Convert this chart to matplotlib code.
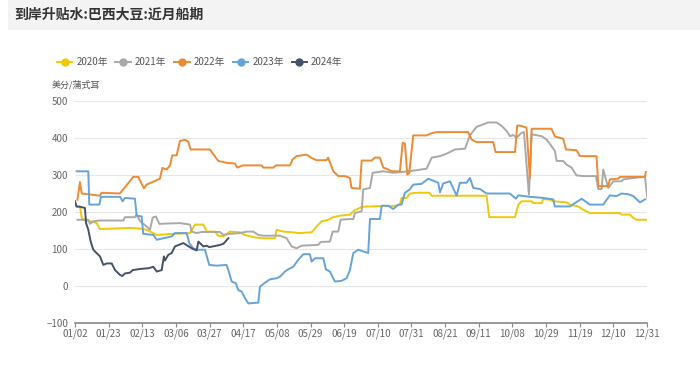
import matplotlib
matplotlib.use("Agg")
import matplotlib.pyplot as plt
from matplotlib.lines import Line2D
from matplotlib.patches import Rectangle

plt.rcParams['font.family'] = ['Noto Sans CJK SC', 'DejaVu Sans']

# Etiquetas del eje x (una cada 21 días de posición)
etiquetas_x = ["01/02", "01/23", "02/13", "03/06", "03/27", "04/17", "05/08", "05/29", "06/19",
               "07/10", "07/31", "08/21", "09/11", "10/08", "10/29", "11/19", "12/10", "12/31"]
posiciones_x = [21 * i for i in range(len(etiquetas_x))]

# Series: (posición en días, valor)
x_2020 = [0.6, 3.1, 4.2, 6.2, 9.4, 11.4, 13.5, 15.6, 35.4, 40.6, 44.7, 47.8, 51, 61.4, 71.8, 74.9,
          80.1, 82.2, 87.4, 89.4, 92.6, 96.7, 103, 106, 111.3, 117.5, 124.8, 125.8, 130, 136.2,
          139.4, 147.7, 150.8, 153.9, 158.1, 161.2, 165.4, 171.6, 173.7, 178.9, 184.1, 200.7,
          202.8, 203.8, 207, 209, 213.2, 221.1, 222.6, 256.9, 258.5, 274.6, 276.7, 278.7, 285,
          286, 291.2, 292.2, 296.4, 298.5, 306.8, 308.9, 314.1, 317.2, 321.4, 340.1, 341.1,
          346.3, 348.4, 350.5, 356.7]
y_2020 = [215, 215, 184, 177, 175, 173, 170, 154, 157, 155, 152, 145, 138, 141, 143, 166,
          166, 147, 147, 136, 134, 147, 145, 138, 132, 129, 129, 152, 147, 145,
          143, 145, 161, 175, 179, 186, 190, 193, 202, 214, 215, 217,
          220, 238, 238, 250, 252, 252, 244, 244, 186, 186, 220, 229, 229,
          224, 224, 235, 233, 229, 226, 220, 215, 206, 197, 197, 193,
          193, 184, 179, 179]

x_2021 = [1.5, 8.3, 9.4, 11.4, 15.6, 30.2, 31.2, 37.4, 38.5, 40.6, 44.7, 46.8, 48.5, 50.5, 52.6,
          65.5, 71.8, 72.8, 75.9, 79, 90.5, 92.6, 96.7, 103, 107.1, 111.3, 114.4, 117.5, 127.9,
          132.1, 135.2, 138.3, 141.4, 151.8, 153.3, 159.1, 160.8, 164.3, 165.8, 171.6, 173.7,
          174.7, 178.9, 179.9, 184.1, 185.8, 192.4, 198.6, 208, 213.2, 219.4, 222.6, 227.8,
          230.9, 234, 237.1, 243.4, 246.5, 250.6, 257.9, 263.1, 266.2, 269.4, 271.4, 273.5,
          275.6, 278.7, 280.2, 283.3, 285, 291.2, 294.3, 297.4, 299.5, 300.6, 304.7, 306.8,
          309.9, 313, 317.2, 325.1, 326.6, 328.7, 329.7, 332.8, 336, 341.1, 342.2, 348.4,
          355.7, 357.4]
y_2021 = [179, 179, 168, 175, 177, 177, 186, 186, 193, 175, 161, 152, 185, 188, 168,
          170, 166, 147, 143, 146, 146, 138, 141, 143, 147, 147, 138, 136, 136,
          129, 107, 102, 109, 111, 119, 120, 147, 147, 179, 181, 181,
          197, 202, 261, 265, 306, 310, 306, 310, 313, 317, 347, 351,
          356, 362, 369, 371, 407, 430, 442, 442, 433, 419, 405, 408,
          401, 414, 416, 247, 410, 405, 396, 378, 365, 338, 338, 328,
          320, 299, 297, 297, 262, 262, 315, 265, 283, 283, 288, 292,
          295, 233]

x_2022 = [1.5, 3.1, 4.2, 15.6, 16.6, 28, 36.4, 39.5, 43, 44.7, 53, 54.5, 57.2, 59.3, 60.7, 63.4,
          65.5, 68.6, 70.7, 72.2, 84.2, 89.4, 94.6, 99.8, 101.3, 105, 116.5, 117.5, 123.8,
          125.4, 134.2, 135.8, 138.3, 144.6, 147.7, 150.8, 157, 158, 161.2, 164.3, 168.5,
          171.6, 172.6, 177.8, 178.9, 185.1, 187.2, 190.3, 192.4, 195.5, 197.6, 202.8, 204.5,
          205.9, 207.4, 208.6, 211.1, 219.4, 222.6, 225.7, 245.4, 247.5, 250.6, 261, 262.5,
          274.6, 276, 278.2, 281.8, 283.9, 285, 286.4, 297.4, 299.5, 304.7, 306.4, 313,
          315.1, 325.5, 326.6, 332.8, 333.8, 339, 340.1, 355.7, 356.3]
y_2022 = [233, 281, 250, 244, 252, 250, 295, 295, 264, 274, 290, 319, 315, 326, 353, 353,
          392, 395, 390, 369, 369, 338, 333, 331, 320, 326, 326, 320, 320,
          326, 326, 342, 351, 355, 346, 340, 340, 347, 310, 297, 297,
          292, 265, 263, 339, 339, 347, 347, 320, 315, 310, 310, 387,
          385, 301, 305, 407, 407, 413, 416, 416, 396, 389, 389, 362,
          362, 434, 433, 428, 292, 425, 425, 425, 404, 398, 369, 367,
          351, 351, 270, 270, 288, 290, 295, 295, 308]

x_2023 = [1, 8.3, 8.9, 15.2, 16.2, 28.1, 29.7, 31.2, 37.4, 38.5, 41.6, 42.6, 48.9, 51, 55.1, 60.3,
          62.4, 69.7, 71.3, 73.8, 75.9, 81.1, 83.8, 88.4, 94.6, 95.7, 97.8, 100.5, 101.9, 104,
          106.1, 108.2, 114.4, 115.4, 118.6, 121.7, 125.8, 127.9, 131, 133.1, 136.2, 139.4,
          142.5, 146.6, 147.7, 149.8, 155, 156.6, 159.1, 162.2, 166.4, 169.5, 171.6, 173.7,
          176.8, 183, 184.1, 190.3, 191.4, 195.5, 198.6, 201.8, 203.8, 205.9, 209, 211.1,
          216.3, 220.5, 226.7, 227.8, 229.8, 234, 238.2, 240.2, 244.4, 246.5, 248.6, 252.7,
          256.9, 271.4, 275.2, 276.7, 284, 292.2, 298.5, 299.5, 308.9, 316.2, 321.4, 329.7,
          333.8, 338, 341.1, 345.3, 348.4, 352.6, 355.7]
y_2023 = [310, 310, 220, 220, 241, 241, 229, 238, 236, 190, 188, 141, 138, 125, 129, 134,
          143, 143, 116, 102, 98, 98, 57, 55, 57, 43, 12, 7, -11, -15,
          -33, -47, -45, -2, 9, 18, 21, 25, 39, 45, 52, 71,
          86, 86, 66, 75, 75, 45, 39, 12, 14, 21, 43, 89,
          98, 89, 181, 181, 217, 217, 208, 220, 220, 252, 261, 274,
          276, 290, 279, 253, 277, 283, 244, 279, 279, 292, 265, 262,
          250, 250, 236, 245, 241, 238, 234, 215, 215, 236, 220, 220,
          245, 243, 250, 248, 243, 226, 234]

x_2024 = [0, 1, 3.1, 6.2, 6.9, 8.3, 9.8, 11.4, 13.5, 15.6, 17.7, 19.8, 22.9, 25, 28.1, 29.5, 31.2,
          34.3, 36, 40.6, 45.8, 48.9, 51, 54.1, 55.5, 56.2, 58.2, 60.3, 62.4, 67.6, 72.8, 75.9,
          77, 80.1, 82.2, 83.8, 90.5, 92.6, 95.7]
y_2024 = [229, 215, 214, 211, 170, 152, 120, 98, 89, 80, 57, 61, 61, 43, 30, 27, 34,
          36, 43, 46, 48, 52, 39, 43, 80, 69, 84, 89, 107, 116, 102, 96,
          120, 107, 109, 105, 111, 114, 129]

series = [
    ("2020年", x_2020, y_2020, "#f0c808"),
    ("2021年", x_2021, y_2021, "#a9a9a9"),
    ("2022年", x_2022, y_2022, "#ee8a33"),
    ("2023年", x_2023, y_2023, "#66a3dc"),
    ("2024年", x_2024, y_2024, "#44526a"),
]

fig = plt.figure(figsize=(7, 3.86), dpi=100)

# Banda del título
fig.patches.append(Rectangle((8 / 700, 1 - 30 / 386), 1, 30 / 386, transform=fig.transFigure,
                             facecolor="#f3f3f3", edgecolor="none", zorder=0))
fig.text(14 / 700, 1 - 15 / 386, "到岸升贴水:巴西大豆:近月船期", fontsize=10, fontweight="bold",
         color="#333333", va="center", ha="left")

ax = fig.add_axes([75 / 700, 1 - 323 / 386, 572 / 700, 222 / 386])

for nombre, xs, ys, color in series:
    ax.plot(xs, ys, color=color, linewidth=1.4, solid_joinstyle="round")

ax.set_xlim(0, 357)
ax.set_ylim(-100, 500)
ax.set_yticks([-100, 0, 100, 200, 300, 400, 500])
ax.set_xticks(posiciones_x)
ax.set_xticklabels(etiquetas_x)
ax.grid(axis="y", color="#e6e6e6", linewidth=0.8)
ax.set_axisbelow(True)
for lado in ["top", "right", "left"]:
    ax.spines[lado].set_visible(False)
ax.spines["bottom"].set_color("#888888")
ax.spines["bottom"].set_linewidth(1.2)
ax.tick_params(axis="x", colors="#888888", length=3, labelsize=7, labelcolor="#666666", pad=1)
ax.tick_params(axis="y", length=0, labelsize=7, labelcolor="#666666", pad=5)

fig.text(52 / 700, 1 - 85 / 386, "美分/蒲式耳", fontsize=6.5, color="#555555", va="center")

# Leyenda
handles = [Line2D([0], [0], color=c, linewidth=1.4, marker="o", markersize=5) for _, _, _, c in series]
fig.legend(handles, [s[0] for s in series], loc="center left", bbox_to_anchor=(48 / 700, 1 - 62 / 386),
           ncol=5, frameon=False, fontsize=7, handlelength=1.6, handletextpad=0.4, columnspacing=0.8,
           labelcolor="#555555")

fig.savefig("out.png", dpi=100)
